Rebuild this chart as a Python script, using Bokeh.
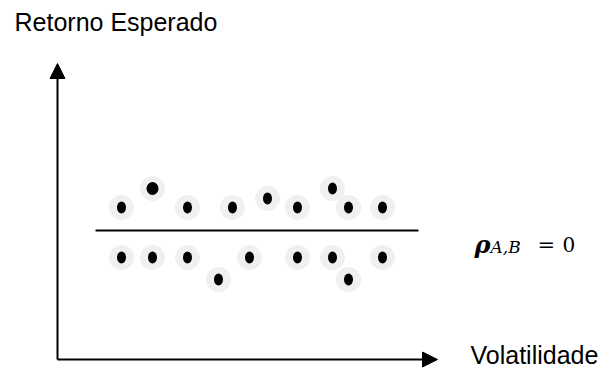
from bokeh.plotting import figure
from bokeh.models import Range1d, Arrow, NormalHead, Label, ColumnDataSource
from bokeh.embed import file_html
from bokeh.resources import INLINE

# Portfolio points (volatility, expected return) in diagram units
upper_vol = [64, 95, 130, 175, 210, 240, 275, 291, 325]
upper_ret = [152, 171, 152, 152, 161, 152, 171, 152, 152]
upper_dot_w = [9, 12, 9, 9, 9, 9, 9, 9, 9]
upper_dot_h = [12, 13, 12, 12, 12, 12, 12, 12, 12]

lower_vol = [64, 95, 130, 161, 192, 240, 275, 291, 325]
lower_ret = [102, 102, 102, 80, 102, 102, 102, 80, 102]
lower_dot_w = [9, 9, 9, 9, 9, 9, 9, 9, 9]
lower_dot_h = [12, 12, 12, 12, 12, 12, 12, 12, 12]

divider_vol = [38, 361]
divider_ret = [129, 129]

axis_max_vol = 380
axis_max_ret = 296

x_label = "Volatilidade"
y_label = "Retorno Esperado"

W, H = 603, 368
p = figure(width=W, height=H, output_backend="svg", toolbar_location=None,
           x_range=Range1d(-57, -57 + W), y_range=Range1d(-9, -9 + H),
           min_border=0, outline_line_color=None)
p.axis.visible = False
p.grid.visible = False
p.background_fill_color = "white"
p.border_fill_color = "white"

vol = upper_vol + lower_vol
ret = upper_ret + lower_ret
src = ColumnDataSource(dict(x=vol, y=ret, w=upper_dot_w + lower_dot_w,
                            h=upper_dot_h + lower_dot_h))

p.scatter("x", "y", source=src, size=25, marker="circle",
          fill_color="#f0f0f0", line_color=None)
p.ellipse("x", "y", width="w", height="h", source=src,
          fill_color="black", line_color=None)

p.line(divider_vol, divider_ret, line_color="black", line_width=2)

p.add_layout(Arrow(x_start=0, y_start=0, x_end=0, y_end=axis_max_ret,
                   line_color="black", line_width=2,
                   end=NormalHead(size=15, fill_color="black", line_color="black")))
p.add_layout(Arrow(x_start=0, y_start=0, x_end=axis_max_vol, y_end=0,
                   line_color="black", line_width=2,
                   end=NormalHead(size=15, fill_color="black", line_color="black")))

p.add_layout(Label(x=-43, y=338, text=y_label, text_font="Liberation Sans",
                   text_font_size="25px", text_color="black",
                   text_baseline="alphabetic"))
p.add_layout(Label(x=413, y=5, text=x_label, text_font="Liberation Sans",
                   text_font_size="25px", text_color="black",
                   text_baseline="alphabetic"))

p.add_layout(Label(x=417, y=115, text="ρ", text_font="DejaVu Serif",
                   text_font_size="24px", text_font_style="bold italic",
                   text_color="black", text_baseline="alphabetic"))
p.add_layout(Label(x=433, y=113, text="A,B", text_font="DejaVu Serif",
                   text_font_size="17px", text_font_style="italic",
                   text_color="black", text_baseline="alphabetic"))
p.add_layout(Label(x=480, y=115, text="=", text_font="DejaVu Serif",
                   text_font_size="21px", text_color="black",
                   text_baseline="alphabetic"))
p.add_layout(Label(x=505, y=115, text="0", text_font="DejaVu Serif",
                   text_font_size="20px", text_color="black",
                   text_baseline="alphabetic"))

open("out.html", "w").write(file_html(p, INLINE))
